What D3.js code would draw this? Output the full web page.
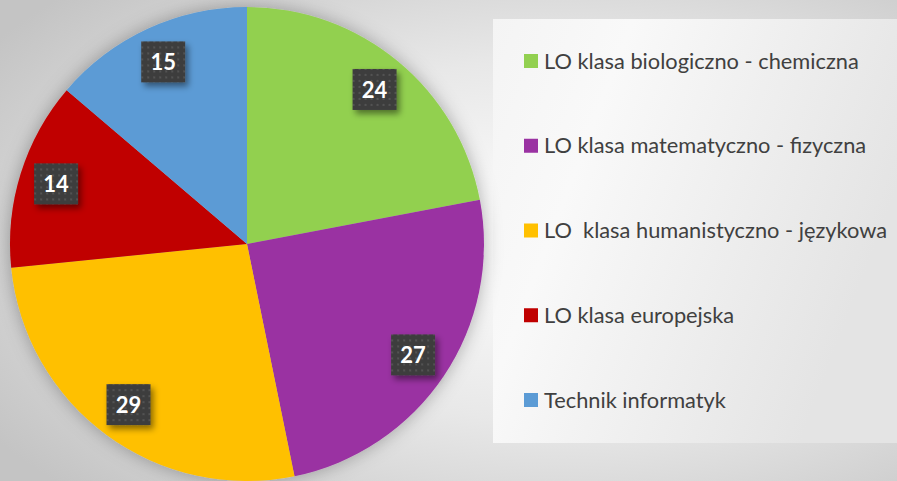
<!DOCTYPE html>
<html>
<head>
<meta charset="utf-8">
<script src="https://cdn.jsdelivr.net/npm/d3@7"></script>
<style>
  html, body { margin: 0; padding: 0; overflow: hidden; }
  svg { display: block; }
</style>
</head>
<body>
<div id="chart"></div>
<script>
// chart data
const categories = [
    "LO klasa biologiczno - chemiczna",
    "LO klasa matematyczno - fizyczna",
    "LO  klasa humanistyczno - językowa",
    "LO klasa europejska",
    "Technik informatyk"
];
const values = [24, 27, 29, 14, 15];
const colors = ["#92D050", "#9A32A2", "#FFC000", "#C00000", "#5B9BD5"];

const width = 897, height = 481;
const cx = 247, cy = 244, radius = 237;

const svg = d3.select("#chart").append("svg")
    .attr("width", width)
    .attr("height", height);

const defs = svg.append("defs");

// background gradient
const bg = defs.append("radialGradient")
    .attr("id", "bg")
    .attr("cx", "62%").attr("cy", "50%").attr("r", "75%");
bg.append("stop").attr("offset", "0%").attr("stop-color", "#ffffff");
bg.append("stop").attr("offset", "50%").attr("stop-color", "#e8e8e8");
bg.append("stop").attr("offset", "100%").attr("stop-color", "#c4c4c4");

const legBg = defs.append("linearGradient")
    .attr("id", "legbg")
    .attr("x1", "0%").attr("y1", "0%").attr("x2", "100%").attr("y2", "40%");
legBg.append("stop").attr("offset", "0%").attr("stop-color", "#f4f4f4");
legBg.append("stop").attr("offset", "30%").attr("stop-color", "#f9f9f9");
legBg.append("stop").attr("offset", "100%").attr("stop-color", "#e4e4e4");

// soft shadow for the pie
const pieShadow = defs.append("filter")
    .attr("id", "pieShadow")
    .attr("x", "-10%").attr("y", "-10%").attr("width", "120%").attr("height", "120%");
pieShadow.append("feDropShadow")
    .attr("dx", 0).attr("dy", 0)
    .attr("stdDeviation", 9)
    .attr("flood-color", "#000")
    .attr("flood-opacity", 0.3);

// shadow for label boxes
const boxShadow = defs.append("filter")
    .attr("id", "boxShadow")
    .attr("x", "-30%").attr("y", "-30%").attr("width", "160%").attr("height", "160%");
boxShadow.append("feDropShadow")
    .attr("dx", 3).attr("dy", 4)
    .attr("stdDeviation", 3)
    .attr("flood-color", "#000")
    .attr("flood-opacity", 0.45);

// dotted pattern on label boxes
const dots = defs.append("pattern")
    .attr("id", "dots")
    .attr("width", 6).attr("height", 6)
    .attr("patternUnits", "userSpaceOnUse");
dots.append("rect").attr("width", 6).attr("height", 6).attr("fill", "#3e3e3e");
dots.append("rect").attr("x", 2).attr("y", 2).attr("width", 2).attr("height", 2).attr("fill", "#525252");

svg.append("rect")
    .attr("width", width).attr("height", height)
    .attr("fill", "url(#bg)");

// legend panel
svg.append("rect")
    .attr("x", 493).attr("y", 19)
    .attr("width", width - 493).attr("height", 424)
    .attr("fill", "url(#legbg)");

// pie
const pie = d3.pie().sort(null).value(d => d);
const arcs = pie(values);
const arc = d3.arc().innerRadius(0).outerRadius(radius);
const labelArc = d3.arc().innerRadius(200).outerRadius(200);

const g = svg.append("g")
    .attr("transform", `translate(${cx},${cy})`);

g.append("g")
    .attr("filter", "url(#pieShadow)")
    .selectAll("path")
    .data(arcs)
    .enter()
    .append("path")
    .attr("d", arc)
    .attr("fill", (d, i) => colors[i]);

// data labels
const labels = g.selectAll("g.label")
    .data(arcs)
    .enter()
    .append("g")
    .attr("class", "label")
    .attr("transform", d => `translate(${labelArc.centroid(d)})`);

labels.append("rect")
    .attr("x", -22).attr("y", -21)
    .attr("width", 44).attr("height", 41)
    .attr("fill", "url(#dots)")
    .attr("filter", "url(#boxShadow)");

labels.append("text")
    .attr("text-anchor", "middle")
    .attr("dy", "0.36em")
    .attr("fill", "#ffffff")
    .attr("font-family", "Lato, 'Open Sans', sans-serif")
    .attr("font-weight", "bold")
    .attr("font-size", 22)
    .text(d => d.data);

// legend
const legendY = d3.scalePoint()
    .domain(categories)
    .range([61, 400]);

const legend = svg.append("g")
    .selectAll("g")
    .data(categories)
    .enter()
    .append("g")
    .attr("transform", d => `translate(524,${legendY(d)})`);

legend.append("rect")
    .attr("x", 0).attr("y", -7)
    .attr("width", 14).attr("height", 14)
    .attr("fill", (d, i) => colors[i]);

legend.append("text")
    .attr("x", 20)
    .attr("dy", "0.35em")
    .attr("fill", "#404040")
    .attr("font-family", "Lato, 'Open Sans', sans-serif")
    .attr("font-size", 21.8)
    .style("white-space", "pre")
    .text(d => d);
</script>
</body>
</html>
